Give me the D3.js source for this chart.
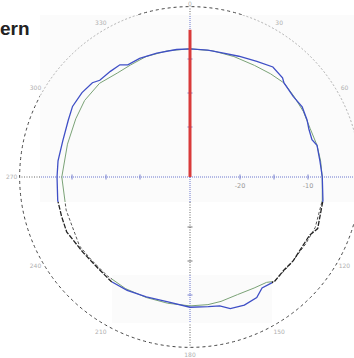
<!DOCTYPE html>
<html><head><meta charset="utf-8">
<script src="https://cdn.jsdelivr.net/npm/d3@7"></script>
<style>html,body{margin:0;padding:0;background:#fff}svg{display:block}</style>
</head><body>
<script>
// ---- data ----
const measuredAngles = [0,8,14,22,30,37,43,45,52,58,64,68,73,76,83,90,100,112,116,129,135,141,147,151,157,163,167,172,180,190,200,209,217,226,235,246,253,260,270,277,286,295,301,308,314,317,323,328,331,337,345,354];
const measuredGain   = [-8.5,-8.5,-8.5,-8.2,-7.7,-7.1,-7.4,-7.8,-8.1,-7.9,-8.2,-8.5,-8.6,-8.1,-8.1,-7.9,-7.5,-7.1,-7.8,-7.8,-7.9,-7.6,-7.9,-7.1,-6.9,-7.1,-7.9,-8.1,-8.2,-8.7,-8.6,-8.3,-8.1,-8.3,-8.1,-7.5,-7.6,-7.6,-7.8,-7.8,-7.9,-7.6,-7.2,-7.2,-7.4,-7.9,-7.9,-7.9,-8.5,-8.4,-8.5,-8.5];
const simulatedAngles = [0,10,20,30,38,45,52,60,68,76,83,90,100,112,120,130,141,144,150,158,166,172,180,190,200,210,220,230,238,244,255,270,285,297,306,316,325,332,340,350];
const simulatedGain   = [-8.5,-8.5,-8.5,-8.4,-8.1,-7.8,-8.0,-8.1,-8.3,-8.1,-8.0,-7.9,-7.6,-7.5,-7.7,-7.8,-7.6,-8.2,-8.5,-8.7,-8.5,-8.4,-8.4,-8.5,-8.5,-8.4,-8.4,-8.4,-8.2,-8.5,-8.5,-8.5,-8.7,-8.5,-8.2,-8.2,-8.7,-8.7,-8.5,-8.5];
const radialTicks = [-20, -15, -10];
const radialTickLabels = ["-20", "", "-10"];
const angleTicks = [0,30,60,90,120,150,180,210,240,270,300,330];
const angleTickLabels = ["0","30","60","90","120","150","180","210","240","270","300","330"];
const outerRingValue = -2.3;
const beamAngle = 0;
const beamValue = -5.7;
const titleText = "Radiation Pattern";

// ---- layout ----
const W = 354, H = 358, cx = 190, cy = 177;
const r = d3.scaleLinear().domain([-20, -10]).range([50, 118]);
const rad = d => d * Math.PI / 180;
const Rmax = r(outerRingValue);

const svg = d3.select("body").append("svg").attr("width", W).attr("height", H);
const defs = svg.append("defs");

const panels = [{x:40,y:15,w:330,h:187},{x:112,y:275,w:160,h:48}];
svg.selectAll("rect.panel").data(panels).join("rect").attr("class","panel")
  .attr("x",d=>d.x).attr("y",d=>d.y).attr("width",d=>d.w).attr("height",d=>d.h)
  .attr("fill","#fbfbfb");

const clip = defs.append("clipPath").attr("id","inside");
clip.selectAll("rect").data(panels).join("rect")
  .attr("x",d=>d.x).attr("y",d=>d.y).attr("width",d=>d.w).attr("height",d=>d.h);
const mask = defs.append("mask").attr("id","outside");
mask.append("rect").attr("x",0).attr("y",0).attr("width",W).attr("height",H).attr("fill","#fff");
mask.selectAll("rect.p").data(panels).join("rect").attr("class","p")
  .attr("x",d=>d.x).attr("y",d=>d.y).attr("width",d=>d.w).attr("height",d=>d.h).attr("fill","#000");

const line = d3.lineRadial().angle(d => rad(d[0])).radius(d => r(d[1])).curve(d3.curveLinearClosed);
const measured = measuredAngles.map((a,i)=>[a, measuredGain[i]]);
const simulated = simulatedAngles.map((a,i)=>[a, simulatedGain[i]]);

const styles = {
  in:  {ring:["#a0a0a0",0.8,"2,2"], axis:["#5a66c8",0.9,"1,1"], meas:["#3f4fc6",1.3,null], sim:["#7aa276",1.0,null]},
  out: {ring:["#444",1.0,"3,3"], axis:["#555",0.9,"1,1.5"], meas:["#222",1.3,"5,1.5"], sim:["#555",1.0,"3,2"]}
};

function layer(kind){
  const s = styles[kind];
  const g = svg.append("g");
  if (kind === "in") g.attr("clip-path","url(#inside)"); else g.attr("mask","url(#outside)");
  const c = g.append("g").attr("transform",`translate(${cx},${cy})`);
  const st = (sel, k) => sel.attr("fill","none").attr("stroke",s[k][0]).attr("stroke-width",s[k][1]).attr("stroke-dasharray",s[k][2]);
  st(c.append("circle").attr("r", Rmax), "ring");
  [0,90,180,270].forEach(a => {
    st(c.append("line").attr("x1",0).attr("y1",0)
      .attr("x2", Math.sin(rad(a))*Rmax).attr("y2", -Math.cos(rad(a))*Rmax), "axis");
    radialTicks.forEach(v => {
      const rr = r(v), px = Math.sin(rad(a))*rr, py = -Math.cos(rad(a))*rr;
      const nx = Math.cos(rad(a))*2.5, ny = Math.sin(rad(a))*2.5;
      c.append("line").attr("x1",px-nx).attr("y1",py-ny).attr("x2",px+nx).attr("y2",py+ny)
        .attr("stroke",s.axis[0]).attr("stroke-width",0.8);
    });
  });
  st(c.append("path").attr("d", line(simulated)), "sim");
  st(c.append("path").attr("d", line(measured)), "meas");
}
layer("in");
layer("out");

const center = svg.append("g").attr("transform",`translate(${cx},${cy})`);
// beam marker
const beamR = r(beamValue);
center.append("line").attr("x1",0).attr("y1",0)
  .attr("x2", Math.sin(rad(beamAngle))*beamR).attr("y2", -Math.cos(rad(beamAngle))*beamR)
  .attr("stroke","#d93a3a").attr("stroke-width",3);

// radial tick labels
center.selectAll("text.rt").data(radialTicks).join("text").attr("class","rt")
  .attr("x", d => r(d)).attr("y", 11).attr("text-anchor","middle")
  .attr("font-family","DejaVu Sans, sans-serif").attr("font-size",6.5).attr("fill","#999")
  .text((d,i)=>radialTickLabels[i]);

// angle labels (only those that fall on the canvas)
const angleLabelData = angleTicks.map((a,i)=>({a, t: angleTickLabels[i],
  x: cx + Math.sin(rad(a))*(Rmax+8), y: cy - Math.cos(rad(a))*(Rmax+8)}))
  .filter(d => d.x > 0 && d.x < W);
svg.selectAll("text.at").data(angleLabelData).join("text").attr("class","at")
  .attr("x", d => d.x).attr("y", d => Math.min(357, Math.max(6, d.y + 2.3)))
  .attr("text-anchor","middle")
  .attr("font-family","DejaVu Sans, sans-serif").attr("font-size",6).attr("fill","#b0b0b0")
  .text(d => d.t);

// title (mostly off-canvas)
svg.append("text").attr("x",29.5).attr("y",35).attr("text-anchor","end")
  .attr("font-family","Liberation Sans, Arial, sans-serif").attr("font-weight","bold")
  .attr("font-size",19).attr("fill","#222").text(titleText);
</script>
</body></html>
